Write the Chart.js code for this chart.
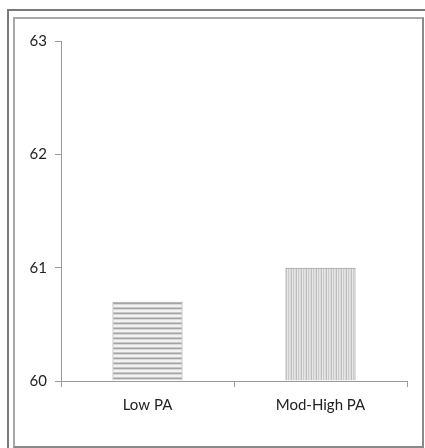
<!DOCTYPE html>
<html>
<head>
<meta charset="utf-8">
<script src="https://cdn.jsdelivr.net/npm/chart.js@4.4.0/dist/chart.umd.min.js"></script>
<style>
  html, body { margin:0; padding:0; background:#fff; width:425px; height:448px; overflow:hidden; }
  #outer { position:absolute; left:7px; top:9px; width:440px; height:460px; border:2px solid #7a7a7a; box-sizing:border-box; }
  #inner { position:absolute; left:13px; top:17px; width:411px; height:431px; border:2px solid #a8a8a8; border-right-color:#8a8a8a; border-bottom-color:#8a8a8a; box-sizing:border-box; }
  #c { position:absolute; left:0; top:0; }
</style>
</head>
<body>
<div id="outer"></div>
<div id="inner"></div>
<canvas id="c" width="425" height="448"></canvas>
<script>
const categories = ["Low PA", "Mod-High PA"];
const values = [60.7, 61.0];
const yTicks = [60, 61, 62, 63];

function hPattern() {
  const p = document.createElement('canvas');
  p.width = 4; p.height = 5;
  const g = p.getContext('2d');
  g.fillStyle = '#f2f2f2'; g.fillRect(0,0,4,5);
  g.fillStyle = '#a4a4a4'; g.fillRect(0,3,4,1);
  g.fillStyle = '#c8c8c8'; g.fillRect(0,2,4,1);
  g.fillStyle = '#d8d8d8'; g.fillRect(0,4,4,1);
  return g.createPattern(p, 'repeat');
}
function vPattern() {
  const p = document.createElement('canvas');
  p.width = 5; p.height = 4;
  const g = p.getContext('2d');
  const cols = ['#dcdcdc', '#bdbdbd', '#e8e8e8', '#cbcbcb', '#e2e2e2'];
  cols.forEach((c,i)=>{ g.fillStyle = c; g.fillRect(i,0,1,4); });
  return g.createPattern(p, 'repeat');
}

const FONT = 'Lato, "Open Sans", sans-serif';
const ctx = document.getElementById('c').getContext('2d');
new Chart(ctx, {
  type: 'bar',
  data: {
    labels: categories,
    datasets: [{
      data: values,
      backgroundColor: [hPattern(), vPattern()],
      borderColor: ['#9a9a9a', '#8c8c8c'],
      borderWidth: 1,
      barPercentage: 0.81,
      categoryPercentage: 0.5,
      base: 60
    }]
  },
  options: {
    responsive: false,
    animation: false,
    devicePixelRatio: 1,
    layout: { padding: { left: 20, right: 18, top: 41, bottom: 0 } },
    plugins: { legend: { display: false }, tooltip: { enabled: false } },
    scales: {
      x: {
        offset: true,
        afterFit: s => { s.height = 67; },
        grid: { display: true, drawOnChartArea: false, drawTicks: true, tickLength: 6, color: '#9a9a9a', offset: true },
        border: { display: true, color: '#9a9a9a', width: 1 },
        ticks: { padding: 9, color: '#222', font: { family: FONT, size: 15 } }
      },
      y: {
        min: 60, max: 63,
        afterFit: s => { s.width = 41; },
        afterBuildTicks: s => { s.ticks = yTicks.map(v => ({ value: v })); },
        grid: { display: true, drawOnChartArea: false, drawTicks: true, tickLength: 6, color: '#9a9a9a' },
        border: { display: true, color: '#9a9a9a', width: 1 },
        ticks: { padding: 8, color: '#222', font: { family: FONT, size: 15 } }
      }
    }
  }
});
</script>
</body>
</html>
